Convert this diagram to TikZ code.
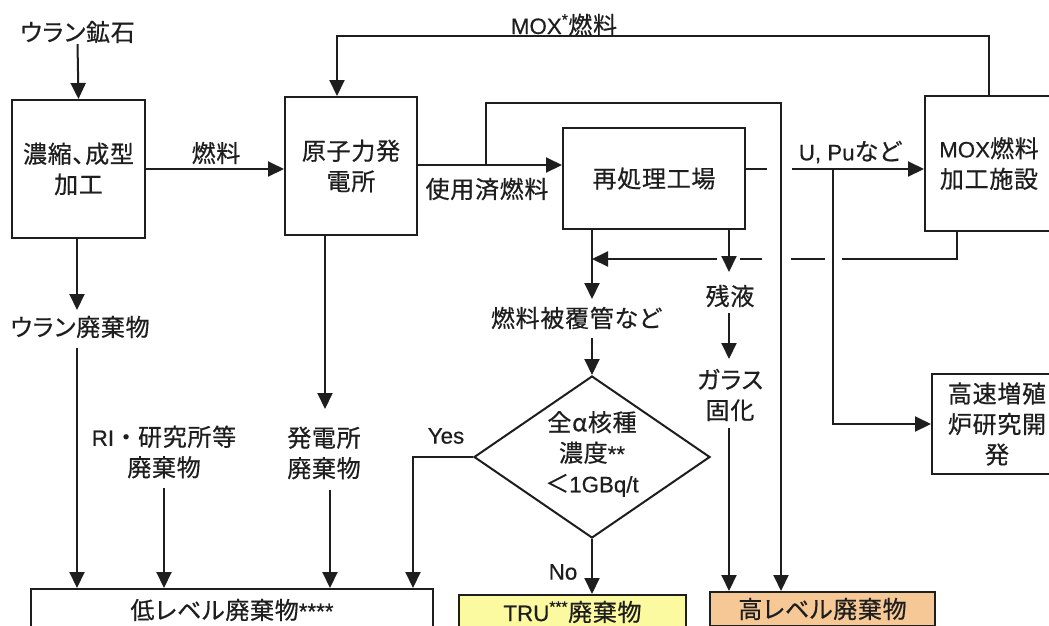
\documentclass[tikz,border=0pt]{standalone}
\usepackage{fontspec}
\setmainfont{Noto Sans CJK JP}[LetterSpace=3, FakeBold=0.5, RawFeature=+palt]
\newfontfamily\jpfull{Noto Sans CJK JP}[FakeBold=0.5]
\newfontfamily\lat{Liberation Sans}[FakeBold=0.5, Scale=0.93]
\usetikzlibrary{arrows.meta,shapes.geometric}
\definecolor{ink}{RGB}{30,30,30}
\definecolor{truyellow}{RGB}{252,250,160}
\definecolor{hlwpeach}{RGB}{246,200,150}
\begin{document}
\begin{tikzpicture}[x=1pt,y=-1pt,
  font=\fontsize{24}{30.5}\selectfont,
  line width=2pt, color=ink,
  arr/.style={-{Triangle[length=16pt,width=15pt]}},
  box/.style={draw=ink, line width=2pt, inner sep=0pt, align=center, text=ink},
  lbl/.style={inner sep=0pt, align=center, text=ink}]
\useasboundingbox (0,0) rectangle (1049,625);
\clip (0,0) rectangle (1049,625);
\fill[white] (0,0) rectangle (1049,625);

% boxes
\node[box, minimum width=133pt, minimum height=138pt] (enrich) at (78.5,169) {濃縮、成型\\加工};
\node[box, minimum width=132pt, minimum height=138pt] (npp) at (351,166) {原子力発\\電所};
\node[box, minimum width=182pt, minimum height=101pt] (rep) at (654,178.5) {再処理工場};
\node[box, minimum width=128pt, minimum height=135pt] (mox) at (989,163.5) {{\lat MOX}燃料\\加工施設};
\node[box, minimum width=130pt, minimum height=100pt] (fbr) at (997,424) {高速増殖\\炉研究開\\発};
\node[box, minimum width=402pt, minimum height=42pt] (low) at (232,610) {低レベル廃棄物{\lat ****}};
\node[box, fill=truyellow, minimum width=227pt, minimum height=34pt] (tru) at (572.5,612) {{\lat TRU\textsuperscript{***}}廃棄物};
\node[box, fill=hlwpeach, minimum width=225pt, minimum height=34pt] (high) at (822.5,609) {高レベル廃棄物};
\node[draw=ink, line width=2pt, diamond, minimum width=236pt, minimum height=162pt, inner sep=0pt] (dia) at (592,457) {};

% texts
\node[lbl] (ore) at (77.5,32) {ウラン鉱石};
\node[lbl] (fuel) at (216,153) {燃料};
\node[lbl] (spent) at (487,189) {使用済燃料};
\node[lbl, anchor=base] (moxl) at (564,34) {{\lat MOX\textsuperscript{*}}燃料};
\node[lbl] (upu) at (850,152) {{\lat U, Pu}など};
\node[lbl] (wU) at (80,327) {ウラン廃棄物};
\node[lbl] (wRI) at (164,452) {{\lat RI}{\jpfull ・}研究所等\\廃棄物};
\node[lbl] (wNPP) at (324,453) {発電所\\廃棄物};
\node[lbl] (clad) at (576,318) {燃料被覆管など};
\node[lbl] (diat) at (592,454) {全α核種\\濃度{\lat **}\\＜{\lat 1GBq/t}};
\node[lbl] (resid) at (730,296) {残液};
\node[lbl] (glass) at (730,395) {ガラス\\固化};
\node[lbl] (yes) at (446,436) {\lat Yes};
\node[lbl] (no) at (563,572) {\lat No};

% coordinates
\coordinate (sp) at (486,165);
\coordinate (hl2) at (781,103);
\coordinate (gapL) at (767,169);
\coordinate (gapR) at (792,169);
\coordinate (up) at (833,169);
\coordinate (mt) at (337,36);
\coordinate (mr) at (957,259);
\coordinate (r1) at (842,259);
\coordinate (r2) at (825,259);
\coordinate (r3) at (791,259);
\coordinate (r4) at (762,259);
\coordinate (r5) at (740,259);
\coordinate (r6) at (717,259);
\coordinate (fc) at (592,259);
\coordinate (cladtop) at (592,299);
\coordinate (cladbot) at (592,338);
\coordinate (rx) at (729,229);
\coordinate (residtop) at (729,272);
\coordinate (residbot) at (729,313);
\coordinate (glasstop) at (729,359);
\coordinate (glassbot) at (729,428);
\coordinate (wUtop) at (77,310);
\coordinate (wUbot) at (77,348);
\coordinate (wRIbot) at (164,488);
\coordinate (nppx) at (325,235);
\coordinate (wNPPtop) at (325,409);
\coordinate (wNPPbot) at (330,490);
\coordinate (ly) at (413,457);

% connectors
\draw[arr] (ore.south) -- (enrich.north);
\draw[arr] (enrich.east) -- (enrich.east -| npp.west);
\draw[arr] (npp.east |- sp) -- (rep.west |- sp);
\draw[arr] (sp) |- (hl2) -- (hl2 |- high.north);
\draw (rep.east |- gapL) -- (gapL);
\draw[arr] (gapR) -- (mox.west |- gapR);
\draw[arr] (up) |- (fbr.west);
\draw[arr] (mox.north) |- (mt) -- (mt |- npp.north);
\draw (mox.south -| mr) -- (mr) -- (r1);
\draw (r2) -- (r3);
\draw (r4) -- (r5);
\draw[arr] (r6) -- (fc);
\draw[arr] (rep.south -| fc) -- (cladtop);
\draw[arr] (cladbot) -- (dia.north);
\draw[arr] (dia.west) -- (ly) -- (ly |- low.north);
\draw[arr] (dia.south) -- (dia.south |- tru.north);
\draw[arr] (rx) -- (residtop);
\draw[arr] (residbot) -- (glasstop);
\draw[arr] (glassbot) -- (glassbot |- high.north);
\draw[arr] (enrich.south -| wUtop) -- (wUtop);
\draw[arr] (wUbot) -- (wUbot |- low.north);
\draw[arr] (wRIbot) -- (wRIbot |- low.north);
\draw[arr] (nppx) -- (wNPPtop);
\draw[arr] (wNPPbot) -- (wNPPbot |- low.north);
\end{tikzpicture}
\end{document}
